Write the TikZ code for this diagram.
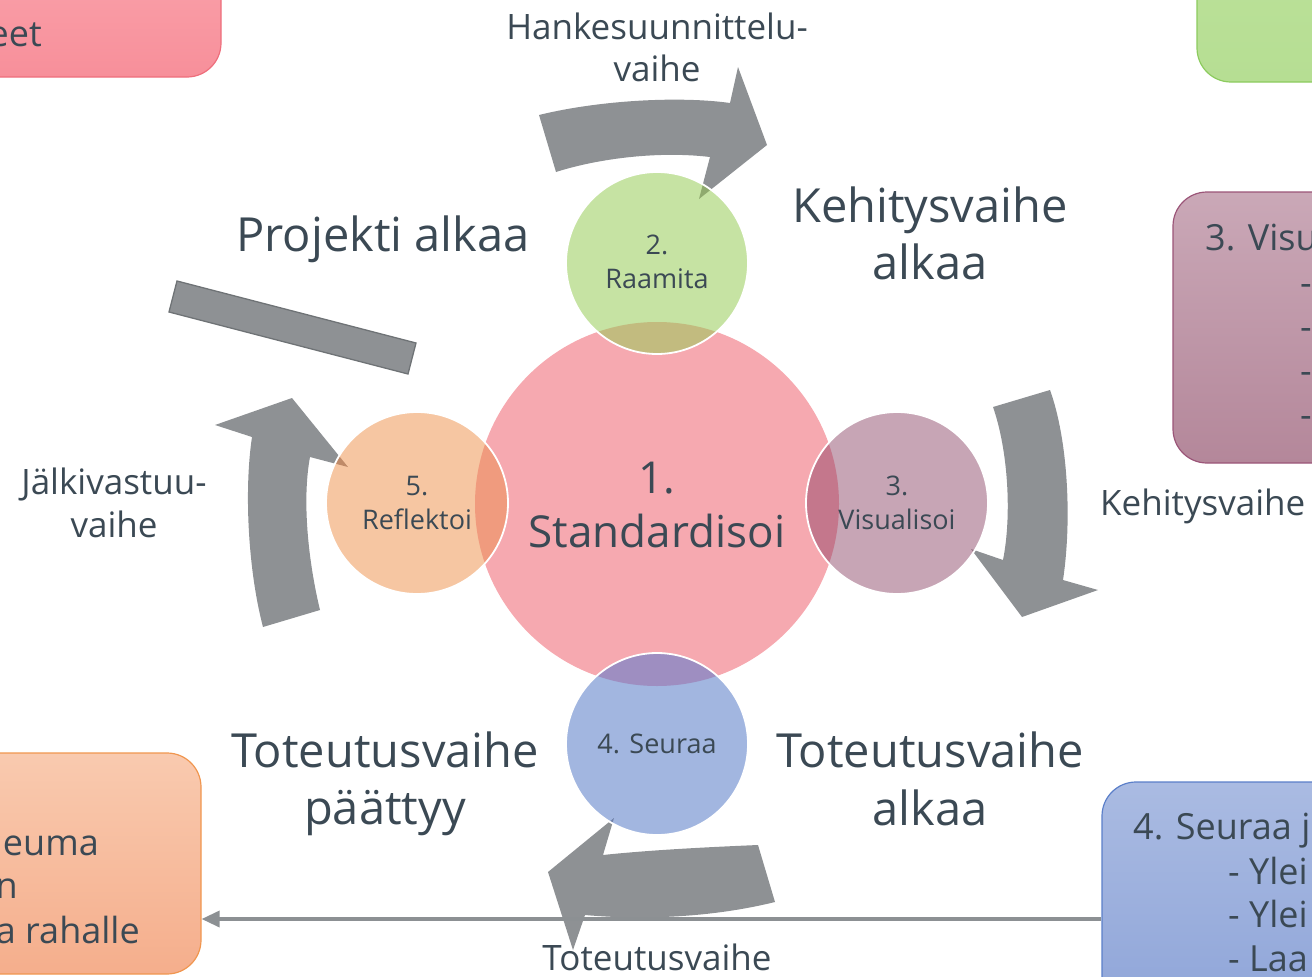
\documentclass[tikz,border=0pt]{standalone}
\usepackage{fontspec}
\setmainfont{Open Sans}
\usetikzlibrary{arrows.meta}
\definecolor{txt}{HTML}{3B4954}
\definecolor{agray}{HTML}{8E9194}
\definecolor{lgray}{HTML}{8C9093}
\definecolor{recedge}{HTML}{6F7376}
\definecolor{pinkC}{HTML}{F6A9B0}
\definecolor{greenC}{HTML}{C6E3A3}
\definecolor{orangeC}{HTML}{F6C6A2}
\definecolor{purpleC}{HTML}{C7A5B5}
\definecolor{blueC}{HTML}{A2B6E0}
\definecolor{ovGreen}{HTML}{C2BB7F}
\definecolor{ovOrange}{HTML}{F09B7E}
\definecolor{ovPurple}{HTML}{C4778C}
\definecolor{ovBlue}{HTML}{9E8EC1}
\definecolor{tipGreen}{HTML}{8FAA6E}
\definecolor{tipOrange}{HTML}{BF8A68}
\definecolor{tipPurple}{HTML}{8F6F80}
\definecolor{tipBlue}{HTML}{6F80A8}
\definecolor{redT}{HTML}{FCA8B0}
\definecolor{redB}{HTML}{F78F9A}
\definecolor{redE}{HTML}{EE6E7C}
\definecolor{grnT}{HTML}{BCE29A}
\definecolor{grnB}{HTML}{B6DE93}
\definecolor{grnE}{HTML}{8CCB5E}
\definecolor{purT}{HTML}{CAA8B7}
\definecolor{purB}{HTML}{B4879A}
\definecolor{purE}{HTML}{9B5578}
\definecolor{bluT}{HTML}{AABBE2}
\definecolor{bluB}{HTML}{8AA1D7}
\definecolor{bluE}{HTML}{5B7FC9}
\definecolor{orgT}{HTML}{F9CAAF}
\definecolor{orgB}{HTML}{F5AE8C}
\definecolor{orgE}{HTML}{F0964F}
\def\arrTop{(539,115) .. controls (600,100) and (680,96) .. (730,103) -- (738,67) -- (767,145) -- (699,199) -- (710,157) .. controls (660,151) and (600,158) .. (556,172) -- cycle}
\def\arrRight{(993,407) -- (1050,390) .. controls (1068,440) and (1072,520) .. (1063,580) -- (1098,590) -- (1022,617) -- (971,549) -- (1003,560) .. controls (1012,515) and (1008,450) .. (993,407) -- cycle}
\def\arrBottom{(758,845) -- (775,902) .. controls (710,918) and (640,920) .. (585,915) -- (573,950) -- (548,872) -- (614,818) -- (603,855) .. controls (650,850) and (710,847) .. (758,845) -- cycle}
\def\arrLeft{(263,627) -- (320,610) .. controls (308,560) and (302,500) .. (310,457) -- (348,467) -- (292,398) -- (215,425) -- (252,437) .. controls (244,490) and (248,570) .. (263,627) -- cycle}
\begin{document}
\begin{tikzpicture}[x=1pt,y=-1pt,
  lbl/.style={text=txt, inner sep=0pt, anchor=base},
  bigt/.style={lbl, font=\fontsize{47}{56}\selectfont},
  midt/.style={lbl, font=\fontsize{44}{53}\selectfont},
  smallt/.style={lbl, font=\fontsize{35}{42}\selectfont},
  boxt/.style={lbl, font=\fontsize{36}{43}\selectfont},
  circt/.style={lbl, font=\fontsize{27}{32}\selectfont},
  card/.style={rectangle, rounded corners=34pt, line width=1.2pt, inner sep=0pt},
  disc/.style={circle, inner sep=0pt, minimum size=182pt},
  ring/.style={draw=white, line width=1.8pt},
  conn/.style={draw=lgray, line width=3.5pt, -{Triangle[length=18pt,width=16pt]}},
  band/.style={fill=agray}]
\useasboundingbox (0,0) rectangle (1312,977);
\clip (0,0) rectangle (1312,977);

% side cards
\node[card, top color=redT, bottom color=redB, draw=redE, minimum width=300pt, minimum height=160pt] (redbox) at (71,-3) {};
\node[card, top color=grnT, bottom color=grnB, draw=grnE, minimum width=300pt, minimum height=160pt] (greenbox) at (1347,2) {};
\node[card, top color=purT, bottom color=purB, draw=purE, minimum width=300pt, minimum height=271pt] (purplebox) at (1323,327.5) {};
\node[card, top color=bluT, bottom color=bluB, draw=bluE, minimum width=298pt, minimum height=274pt] (bluebox) at (1251,919) {};
\node[card, top color=orgT, bottom color=orgB, draw=orgE, minimum width=301pt, minimum height=221pt] (orangebox) at (50.5,863.5) {};

\node[boxt, anchor=base east] (redtxt) at (42,46) {eet};
\node[boxt, anchor=base west] (purtxt1) at (1205,250) {3. Visu};
\node[boxt, anchor=base west] (purtxt2) at (1300,295) {-};
\node[boxt, anchor=base west] (purtxt3) at (1300,339) {-};
\node[boxt, anchor=base west] (purtxt4) at (1300,383) {-};
\node[boxt, anchor=base west] (purtxt5) at (1300,427) {-};
\node[boxt, anchor=base west] (blutxt1) at (1133,839) {4. Seuraa j};
\node[boxt, anchor=base west] (blutxt2) at (1228,884) {- Ylei};
\node[boxt, anchor=base west] (blutxt3) at (1228,927) {- Ylei};
\node[boxt, anchor=base west] (blutxt4) at (1228,971) {- Laa};
\node[boxt, anchor=base east] (orgtxt1) at (99,855) {euma};
\node[boxt, anchor=base east] (orgtxt2) at (18,898) {n};
\node[boxt, anchor=base east] (orgtxt3) at (140,943) {a rahalle};

% block arrows
\fill[band] \arrTop;
\fill[band] \arrRight;
\fill[band] \arrBottom;
\fill[band] \arrLeft;
\draw[fill=agray, draw=recedge, line width=1.3pt] (177,281) -- (416,343) -- (408,374) -- (169,312) -- cycle;

% connector
\coordinate (ly) at (0,919);
\draw[conn] (ly -| bluebox.west) -- (ly -| orangebox.east);

% circles
\node[circle, inner sep=0pt, minimum size=364pt, fill=pinkC] (pink) at (657,504) {};
\node[disc, fill=greenC] (green) at (657,263) {};
\node[disc, fill=purpleC] (purple) at (897,503) {};
\node[disc, fill=blueC] (blue) at (657,744) {};
\node[disc, fill=orangeC] (orange) at (417,503) {};

\begin{scope}
\clip (pink.center) circle[radius=182pt];
\fill[ovGreen] (green.center) circle[radius=91pt];
\fill[ovPurple] (purple.center) circle[radius=91pt];
\fill[ovBlue] (blue.center) circle[radius=91pt];
\fill[ovOrange] (orange.center) circle[radius=91pt];
\end{scope}
\begin{scope}
\clip (green.center) circle[radius=91pt];
\fill[tipGreen] \arrTop;
\end{scope}
\begin{scope}
\clip (purple.center) circle[radius=91pt];
\fill[tipPurple] \arrRight;
\end{scope}
\begin{scope}
\clip (blue.center) circle[radius=91pt];
\fill[tipBlue] \arrBottom;
\end{scope}
\begin{scope}
\clip (orange.center) circle[radius=91pt];
\fill[tipOrange] \arrLeft;
\end{scope}
\draw[ring] (green.center) circle[radius=91pt];
\draw[ring] (purple.center) circle[radius=91pt];
\draw[ring] (blue.center) circle[radius=91pt];
\draw[ring] (orange.center) circle[radius=91pt];

% circle texts
\node[circt] (t2a) at (657,254) {2.};
\node[circt] (t2b) at (657,288) {Raamita};
\node[midt] (t1a) at (657,493) {1.};
\node[midt] (t1b) at (657,547) {Standardisoi};
\node[circt] (t3a) at (897,495) {3.};
\node[circt] (t3b) at (897,529) {Visualisoi};
\node[circt] (t4) at (657,753) {4. Seuraa};
\node[circt] (t5a) at (417,495) {5.};
\node[circt] (t5b) at (417,529) {Reflektoi};

% phase labels
\node[bigt] (pa) at (383,251) {Projekti alkaa};
\node[bigt] (ka1) at (930,222) {Kehitysvaihe};
\node[bigt] (ka2) at (930,279) {alkaa};
\node[bigt] (tp1) at (385,767) {Toteutusvaihe};
\node[bigt] (tp2) at (385,824) {päättyy};
\node[bigt] (ta1) at (930,767) {Toteutusvaihe};
\node[bigt] (ta2) at (930,825) {alkaa};
\node[smallt] (hv1) at (657,39) {Hankesuunnittelu-};
\node[smallt] (hv2) at (657,81) {vaihe};
\node[smallt] (jv1) at (114,494) {Jälkivastuu-};
\node[smallt] (jv2) at (114,537) {vaihe};
\node[smallt, anchor=base west] (kv) at (1100,515) {Kehitysvaihe};
\node[smallt] (tv) at (657,970) {Toteutusvaihe};
\end{tikzpicture}
\end{document}
